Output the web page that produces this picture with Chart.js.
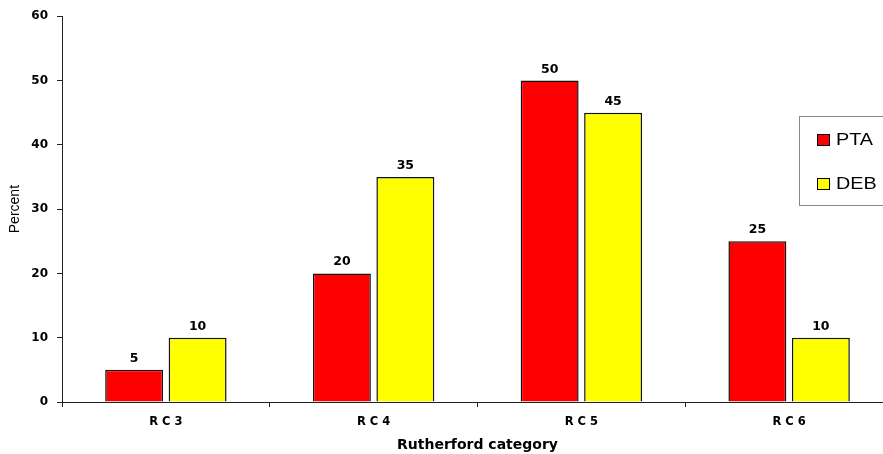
<!DOCTYPE html>
<html>
<head>
<meta charset="utf-8">
<style>
  html, body { margin: 0; padding: 0; background: #fff; overflow: hidden; }
  #wrap { position: relative; width: 900px; height: 454px; }
</style>
<script src="https://cdn.jsdelivr.net/npm/chart.js@4/dist/chart.umd.min.js"></script>
</head>
<body>
<div id="wrap"><canvas id="c" width="900" height="454"></canvas></div>
<script>
// Distribution of patients by Rutherford category
const categories = ['R C 3', 'R C 4', 'R C 5', 'R C 6'];
const ptaValues = [5, 20, 50, 25];
const debValues = [10, 35, 45, 10];
const seriesNames = ['PTA', 'DEB'];
const yTicks = [0, 10, 20, 30, 40, 50, 60];

const AXIS_COLOR = '#222';
const BOLD_FONT = '"DejaVu Sans", "Liberation Sans", sans-serif';

// Numeric labels above each bar
const valueLabels = {
  id: 'valueLabels',
  afterDatasetsDraw(chart) {
    const ctx = chart.ctx;
    ctx.save();
    ctx.font = 'bold 12.5px ' + BOLD_FONT;
    ctx.fillStyle = '#000';
    ctx.textAlign = 'center';
    ctx.textBaseline = 'alphabetic';
    chart.data.datasets.forEach((ds, i) => {
      chart.getDatasetMeta(i).data.forEach((bar, j) => {
        ctx.fillText(String(ds.data[j]), bar.x, bar.y - 8);
      });
    });
    ctx.restore();
  }
};

// Boxed legend on the right side, with slightly widened lettering
const boxLegend = {
  id: 'boxLegend',
  afterDraw(chart) {
    const ctx = chart.ctx;
    ctx.save();
    ctx.strokeStyle = '#888';
    ctx.lineWidth = 1;
    ctx.strokeRect(799.5, 116.5, 120, 89);
    const rowsY = [140, 184];
    chart.data.datasets.forEach((ds, i) => {
      const y = rowsY[i];
      ctx.fillStyle = ds.backgroundColor;
      ctx.fillRect(817, y - 6, 13, 12);
      ctx.strokeStyle = '#000';
      ctx.strokeRect(817.5, y - 5.5, 12, 11);
      ctx.save();
      ctx.translate(836, y);
      ctx.scale(1.2, 1);
      ctx.font = '16.5px "Liberation Sans", Arial, sans-serif';
      ctx.textBaseline = 'middle';
      ctx.textAlign = 'left';
      ctx.fillStyle = '#000';
      ctx.fillText(ds.label, 0, 0);
      ctx.restore();
    });
    ctx.restore();
  }
};

new Chart(document.getElementById('c'), {
  type: 'bar',
  data: {
    labels: categories,
    datasets: [
      { label: seriesNames[0], data: ptaValues, backgroundColor: '#FF0000', borderColor: '#111', borderWidth: 1.5 },
      { label: seriesNames[1], data: debValues, backgroundColor: '#FFFF00', borderColor: '#111', borderWidth: 1.5 }
    ]
  },
  options: {
    responsive: false,
    animation: false,
    events: [],
    layout: { padding: { top: 10, right: 7, left: 0, bottom: 0 } },
    datasets: { bar: { categoryPercentage: 0.611, barPercentage: 0.913 } },
    plugins: { legend: { display: false }, tooltip: { enabled: false } },
    scales: {
      x: {
        offset: true,
        grid: { offset: true, drawOnChartArea: false, drawTicks: true, tickLength: 5, color: AXIS_COLOR },
        border: { display: true, color: AXIS_COLOR, width: 1 },
        ticks: { color: '#000', padding: 8, font: { family: BOLD_FONT, size: 11.5, weight: 'bold' } },
        title: {
          display: true, text: 'Rutherford category', color: '#000',
          font: { family: BOLD_FONT, size: 14, weight: 'bold' },
          padding: { top: 3, bottom: 0 }
        },
        afterFit(scale) { scale.height = 52; }
      },
      y: {
        min: 0, max: 60,
        afterBuildTicks(scale) { scale.ticks = yTicks.map(v => ({ value: v })); },
        grid: { drawOnChartArea: false, drawTicks: true, tickLength: 5, color: AXIS_COLOR },
        border: { display: true, color: AXIS_COLOR, width: 1 },
        ticks: { color: '#000', padding: 9, font: { family: BOLD_FONT, size: 12, weight: 'bold' } },
        title: {
          display: true, text: 'Percent', color: '#000',
          font: { family: '"Liberation Sans", Arial, sans-serif', size: 14 },
          padding: { top: 7, bottom: 0 }
        },
        afterFit(scale) { scale.width = 62; }
      }
    }
  },
  plugins: [valueLabels, boxLegend]
});
</script>
</body>
</html>
